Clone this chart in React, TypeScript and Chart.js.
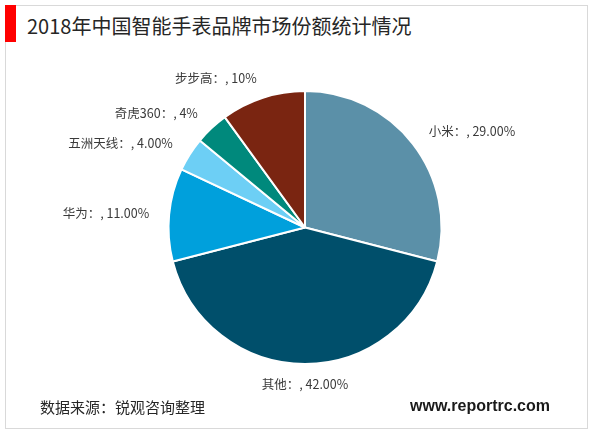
import React, { useEffect, useRef } from "react";
import { Chart, registerables } from "chart.js";

Chart.register(...registerables);

const categories = ["小米", "其他", "华为", "五洲天线", "奇虎360", "步步高"];
const values = [29, 42, 11, 4, 4, 10];
const valueLabels = ["29.00%", "42.00%", "11.00%", "4.00%", "4%", "10%"];
const colors = ["#5B90A8", "#004F6B", "#00A0DC", "#6DCFF5", "#00897C", "#7A2511"];
const title = "2018年中国智能手表品牌市场份额统计情况";
const sourceText = "数据来源：锐观咨询整理";
const siteText = "www.reportrc.com";

const FONT = '"Noto Sans CJK SC", "Noto Sans", sans-serif';

const labelPlugin = {
  id: "outLabels",
  afterDatasetsDraw(chart: any) {
    const ctx = chart.ctx;
    const meta = chart.getDatasetMeta(0);
    ctx.save();
    ctx.font = `12.5px ${FONT}`;
    ctx.fillStyle = "#3a3a3a";
    ctx.textBaseline = "middle";
    meta.data.forEach((arc: any, i: number) => {
      const { x, y, startAngle, endAngle, outerRadius } = arc.getProps(
        ["x", "y", "startAngle", "endAngle", "outerRadius"],
        true
      );
      const mid = (startAngle + endAngle) / 2;
      const r = outerRadius + 20;
      const lx = x + Math.cos(mid) * r;
      const ly = y + Math.sin(mid) * r;
      const dx = Math.cos(mid);
      ctx.textAlign = Math.abs(dx) < 0.15 ? "center" : dx > 0 ? "left" : "right";
      ctx.fillText(`${categories[i]}：, ${valueLabels[i]}`, lx, ly);
    });
    ctx.restore();
  },
};

export default function App() {
  const ref = useRef<HTMLCanvasElement>(null);
  useEffect(() => {
    document.body.style.margin = "0";
    const chart = new Chart(ref.current!, {
      type: "pie",
      data: {
        labels: categories,
        datasets: [
          {
            data: values,
            backgroundColor: colors,
            borderColor: "#ffffff",
            borderWidth: 2,
          },
        ],
      },
      options: {
        responsive: false,
        animation: false,
        layout: { padding: { top: 90, bottom: 68, left: 167, right: 157 } },
        plugins: {
          legend: { display: false },
          tooltip: { enabled: false },
          title: { display: false },
        },
      },
      plugins: [labelPlugin],
    });
    return () => chart.destroy();
  }, []);

  return (
    <div style={{ position: "fixed", left: 0, top: 0, width: 600, height: 433, background: "#fff", fontFamily: FONT }}>
      <div
        style={{
          position: "absolute",
          left: 5,
          top: 5,
          width: 583,
          height: 424,
          border: "1px solid #D9D9D9",
          boxSizing: "border-box",
        }}
      />
      <div style={{ position: "absolute", left: 5, top: 5, width: 11, height: 37, background: "#FF0000" }} />
      <div
        style={{
          position: "absolute",
          left: 27,
          top: 11,
          fontSize: 20,
          lineHeight: "30px",
          color: "#262626",
          whiteSpace: "nowrap",
        }}
      >
        {title}
      </div>
      <canvas ref={ref} width={600} height={433} style={{ position: "absolute", left: 0, top: 0 }} />
      <div style={{ position: "absolute", left: 40, top: 396, fontSize: 15, lineHeight: "22px", color: "#262626" }}>
        {sourceText}
      </div>
      <div
        style={{
          position: "absolute",
          right: 50,
          top: 395,
          fontSize: 16,
          fontWeight: "bold",
          lineHeight: "22px",
          color: "#1a1a1a",
          fontFamily: '"Liberation Sans", Arial, sans-serif',
        }}
      >
        {siteText}
      </div>
    </div>
  );
}
